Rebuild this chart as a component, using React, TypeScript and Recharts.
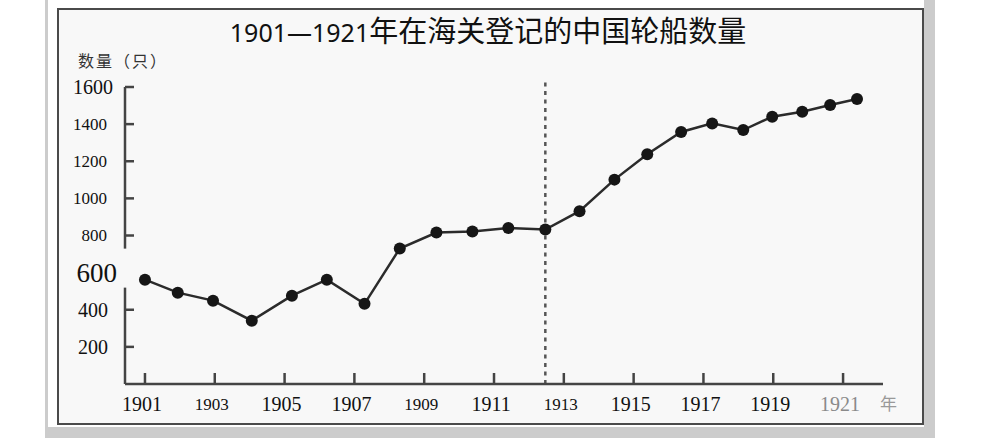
import { LineChart, Line, XAxis, YAxis, ReferenceLine } from "recharts"

// where each point sits on the year axis (the points are not drawn exactly on the year ticks)
const pointYears = [
  1901.0, 1901.94, 1902.95, 1904.06, 1905.21, 1906.21, 1907.29, 1908.3, 1909.35, 1910.38, 1911.41,
  1912.47, 1913.45, 1914.45, 1915.39, 1916.36, 1917.25, 1918.14, 1918.97, 1919.83, 1920.63, 1921.4,
]
// ships registered at the customs
const ships = [
  562, 492, 449, 341, 476, 562, 432, 730, 816, 822, 840,
  832, 931, 1101, 1238, 1358, 1404, 1368, 1440, 1467, 1503, 1535,
]
const yearTicks = [1901, 1903, 1905, 1907, 1909, 1911, 1913, 1915, 1917, 1919, 1921]
const countTicks = [200, 400, 600, 800, 1000, 1200, 1400, 1600]
const markYear = 1912.47

const data = pointYears.map((at, i) => ({ at, ships: ships[i] }))

const serif = "'Liberation Serif', 'DejaVu Serif', serif"
const bg = "#f8f8f8"

function YearTick({ x, y, payload }: any) {
  const v = payload.value
  const small = v === 1903 || v === 1909 || v === 1913
  return (
    <g>
      <line x1={x} y1={y} x2={x} y2={y - 11} stroke="#444" strokeWidth={2.5} />
      <text
        x={x - 3}
        y={y + 20}
        textAnchor="middle"
        dominantBaseline="central"
        fontSize={small ? 17 : 20}
        fontFamily={serif}
        fill={v === 1921 ? "#8a8a8a" : "#111"}
      >
        {v}
      </text>
    </g>
  )
}

function CountTick({ x, y, payload }: any) {
  const v = payload.value
  let size = 17
  let gap = 18
  if (v === 600) {
    size = 27
    gap = 8
  } else if (v === 1600) {
    size = 20
    gap = 12
  } else if (v <= 400) {
    size = 20
    gap = 17
  }
  return (
    <g>
      {v === 600 ? (
        <rect x={x - 56} y={y - 24} width={59} height={39} fill={bg} />
      ) : (
        <line x1={x} y1={y} x2={x + 9} y2={y} stroke="#444" strokeWidth={2.5} />
      )}
      <text
        x={x - gap}
        y={y}
        textAnchor="end"
        dominantBaseline="central"
        fontSize={size}
        fontFamily={serif}
        fill="#111"
      >
        {v}
      </text>
    </g>
  )
}

export default function App() {
  return (
    <div style={{ position: "absolute", left: 0, top: 0, width: 989, height: 443, background: "#fff" }}>
      {/* scanned frame */}
      <div
        style={{
          position: "absolute",
          left: 45,
          top: -4,
          width: 876,
          height: 428,
          borderStyle: "solid",
          borderColor: "#cccccc",
          borderWidth: "3px 11px 11px 3px",
        }}
      />
      <div
        style={{
          position: "absolute",
          left: 57,
          top: 8,
          width: 863,
          height: 413,
          border: "2px solid #4a4a4a",
          background: bg,
        }}
      />

      <div
        style={{
          position: "absolute",
          left: 0,
          width: 976,
          top: 12,
          textAlign: "center",
          color: "#111",
          lineHeight: "34px",
          whiteSpace: "nowrap",
        }}
      >
        <span style={{ fontFamily: "'Noto Sans', sans-serif", fontSize: 25 }}>1901—1921</span>
        <span style={{ fontFamily: "'Noto Sans CJK SC', sans-serif", fontSize: 29 }}>
          年在海关登记的中国轮船数量
        </span>
      </div>

      <div
        style={{
          position: "absolute",
          left: 78,
          top: 50,
          fontFamily: "'Noto Sans CJK SC', sans-serif",
          fontSize: 16,
          letterSpacing: 2,
          color: "#333",
          lineHeight: "20px",
        }}
      >
        数量（只）
      </div>

      <div
        style={{
          position: "absolute",
          left: 880,
          top: 392,
          fontFamily: "'Noto Sans CJK SC', sans-serif",
          fontSize: 17,
          color: "#999",
          lineHeight: "22px",
        }}
      >
        年
      </div>

      <div style={{ position: "absolute", left: 0, top: 0 }}>
        <LineChart
          width={989}
          height={443}
          data={data}
          margin={{ top: 87, right: 106, bottom: 19, left: 65 }}
        >
          <XAxis
            dataKey="at"
            type="number"
            scale="linear"
            domain={[1900.428, 1922.144]}
            allowDataOverflow
            ticks={yearTicks}
            interval={0}
            height={40}
            tickSize={0}
            tickMargin={0}
            tick={<YearTick />}
            axisLine={{ stroke: "#444", strokeWidth: 2.5 }}
          />
          <YAxis
            domain={[0, 1600]}
            ticks={countTicks}
            interval={0}
            width={60}
            tickSize={0}
            tickMargin={0}
            tick={<CountTick />}
            axisLine={{ stroke: "#444", strokeWidth: 2.5 }}
          />
          <ReferenceLine
            segment={[
              { x: markYear, y: 0 },
              { x: markYear, y: 1640 },
            ]}
            ifOverflow="visible"
            stroke="#555"
            strokeWidth={2.5}
            strokeDasharray="4 4.5"
          />
          <Line
            type="linear"
            dataKey="ships"
            stroke="#2b2b2b"
            strokeWidth={2.5}
            dot={{ r: 6, fill: "#161616", stroke: "none" }}
            isAnimationActive={false}
          />
        </LineChart>
      </div>
    </div>
  )
}
